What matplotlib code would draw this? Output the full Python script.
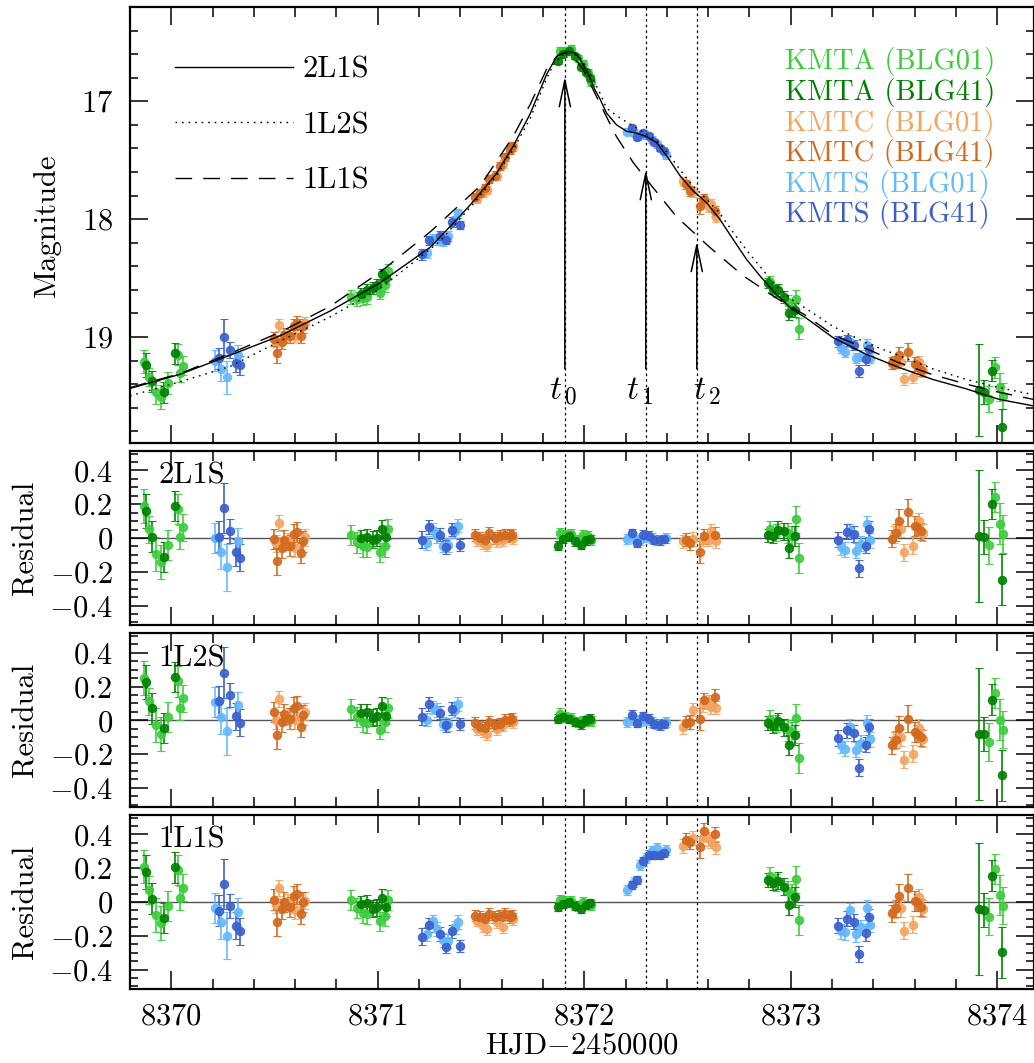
import numpy as np
import matplotlib.pyplot as plt
from matplotlib.ticker import MultipleLocator

plt.rcParams['font.family'] = ['cmr10', 'DejaVu Serif']
plt.rcParams['mathtext.fontset'] = 'cm'
plt.rcParams['axes.formatter.use_mathtext'] = True
plt.rcParams['font.size'] = 22

# ---- data: KMTA (BLG01) ----
kmta01_t = [8369.869, 8369.892, 8369.927, 8369.950, 8369.982, 8370.032, 8370.044, 8370.056,
            8370.872, 8370.901, 8370.930, 8370.947, 8371.011, 8371.035, 8371.048,
            8371.882, 8371.906, 8371.938, 8371.970, 8371.995, 8372.019, 8372.035,
            8372.901, 8372.930, 8372.987, 8373.008, 8373.024, 8373.040,
            8373.959, 8373.991, 8374.011, 8374.030]
kmta01_mag = [19.21, 19.34, 19.47, 19.51, 19.39, 19.15, 19.31, 19.245,
              18.66, 18.675, 18.67, 18.66, 18.625, 18.56, 18.44,
              16.57, 16.57, 16.554, 16.635, 16.68, 16.76, 16.84,
              18.53, 18.61, 18.705, 18.76, 18.68, 18.93,
              19.526, 19.257, 19.425, 19.50]
kmta01_err = [0.10, 0.08, 0.10, 0.10, 0.09, 0.09, 0.07, 0.08,
              0.06, 0.06, 0.06, 0.06, 0.055, 0.06, 0.06,
              0.03, 0.03, 0.03, 0.03, 0.03, 0.03, 0.03,
              0.05, 0.05, 0.06, 0.06, 0.08, 0.09,
              0.11, 0.09, 0.12, 0.11]
kmta01_r2l1s = [0.19, 0.053, -0.093, -0.144, -0.041, 0.17, 0.006, 0.065,
                0.016, -0.026, -0.05, -0.053, -0.085, -0.05, 0.053,
                0.03, 0.02, 0.026, -0.01, 0.02, 0.01, -0.01,
                0.053, 0.03, 0.03, 0.01, 0.112, -0.118,
                -0.043, 0.243, 0.085, 0.024]
kmta01_r1l2s = [0.25, 0.114, -0.03, -0.08, 0.02, 0.23, 0.07, 0.13,
                0.065, 0.02, -0.01, -0.016, -0.055, -0.01, 0.073,
                0.04, 0.02, 0.014, -0.01, -0.004, 0.0, -0.006,
                0.01, -0.02, -0.06, -0.07, 0.016, -0.223,
                -0.128, 0.162, 0.004, -0.055]
kmta01_r1l1s = [0.21, 0.071, -0.075, -0.126, -0.024, 0.19, 0.024, 0.083,
                0.012, -0.037, -0.065, -0.07, -0.114, -0.08, 0.012,
                0.012, 0.008, 0.004, -0.022, -0.002, -0.012, -0.016,
                0.156, 0.116, 0.067, 0.047, 0.136, -0.105,
                -0.087, 0.195, 0.041, -0.022]

# ---- data: KMTA (BLG41) ----
kmta41_t = [8369.879, 8369.908, 8369.965, 8370.018,
            8370.918, 8370.947, 8370.976, 8370.995, 8371.022, 8371.040,
            8371.874, 8371.898, 8371.927, 8371.955, 8371.984, 8372.008, 8372.027,
            8372.890, 8372.914, 8372.938, 8372.966, 8372.992, 8373.019,
            8373.914, 8373.938, 8373.974, 8374.022]
kmta41_mag = [19.24, 19.375, 19.47, 19.14,
              18.634, 18.60, 18.585, 18.556, 18.47, 18.50,
              16.655, 16.60, 16.57, 16.62, 16.705, 16.75, 16.806,
              18.544, 18.595, 18.60, 18.66, 18.80, 18.77,
              19.448, 19.465, 19.287, 19.765]
kmta41_err = [0.10, 0.09, 0.09, 0.09,
              0.05, 0.05, 0.05, 0.05, 0.05, 0.05,
              0.025, 0.025, 0.025, 0.025, 0.025, 0.025, 0.025,
              0.04, 0.04, 0.05, 0.05, 0.06, 0.06,
              0.39, 0.10, 0.09, 0.15]
kmta41_r2l1s = [0.16, 0.008, -0.112, 0.19,
                -0.002, 0.004, -0.01, 0.0, 0.055, 0.004,
                -0.045, -0.006, 0.01, -0.02, -0.04, -0.014, -0.006,
                0.016, 0.01, 0.05, 0.04, -0.06, 0.01,
                0.01, 0.006, 0.203, -0.247]
kmta41_r1l2s = [0.225, 0.07, -0.047, 0.256,
                0.045, 0.047, 0.014, 0.024, 0.087, 0.026,
                0.01, 0.02, 0.008, -0.01, -0.024, 0.0, 0.01,
                -0.016, -0.035, -0.006, -0.04, -0.148, -0.085,
                -0.079, -0.083, 0.122, -0.325]
kmta41_r1l1s = [0.178, 0.02, -0.095, 0.205,
                -0.012, -0.008, -0.04, -0.03, 0.024, -0.03,
                -0.03, -0.012, -0.002, -0.022, -0.04, -0.016, -0.008,
                0.13, 0.11, 0.126, 0.09, -0.018, 0.03,
                -0.041, -0.047, 0.156, -0.298]

# ---- data: KMTC (BLG01) ----
kmtc01_t = [8370.505, 8370.524, 8370.563, 8370.600, 8370.648,
            8371.479, 8371.511, 8371.530, 8371.576, 8371.608, 8371.656,
            8372.479, 8372.527, 8372.576, 8372.605, 8372.616, 8372.640,
            8373.498, 8373.535, 8373.548, 8373.592, 8373.621, 8373.640]
kmtc01_mag = [19.035, 18.90, 18.98, 18.99, 18.88,
              17.83, 17.78, 17.75, 17.63, 17.53, 17.38,
              17.68, 17.77, 17.845, 17.90, 17.87, 17.985,
              19.21, 19.21, 19.355, 19.34, 19.21, 19.29]
kmtc01_err = [0.05, 0.05, 0.05, 0.05, 0.05,
              0.035, 0.035, 0.035, 0.035, 0.035, 0.035,
              0.04, 0.04, 0.04, 0.04, 0.04, 0.04,
              0.05, 0.05, 0.05, 0.05, 0.05, 0.05]
kmtc01_r2l1s = [-0.03, 0.089, -0.02, -0.06, 0.004,
                -0.01, -0.03, -0.04, -0.02, -0.01, 0.0,
                -0.02, -0.006, -0.01, -0.01, 0.04, -0.02,
                0.02, 0.053, -0.085, -0.045, 0.1, 0.03]
kmtc01_r1l2s = [0.0, 0.126, 0.02, 0.0, 0.05,
                -0.05, -0.065, -0.079, -0.05, -0.03, -0.01,
                -0.04, 0.063, 0.09, 0.108, 0.08, 0.075,
                -0.118, -0.1, -0.233, -0.197, -0.045, -0.108]
kmtc01_r1l1s = [-0.016, 0.083, -0.002, -0.05, 0.008,
                -0.11, -0.14, -0.16, -0.12, -0.15, -0.10,
                0.333, 0.38, 0.38, 0.373, 0.36, 0.323,
                -0.047, -0.036, -0.17, -0.134, 0.028, -0.04]

# ---- data: KMTC (BLG41) ----
kmtc41_t = [8370.495, 8370.514, 8370.536, 8370.548, 8370.576, 8370.592, 8370.611, 8370.629, 8370.640,
            8371.471, 8371.495, 8371.519, 8371.540, 8371.567, 8371.592, 8371.616, 8371.640, 8371.648,
            8372.495, 8372.511, 8372.559, 8372.579, 8372.632,
            8373.491, 8373.508, 8373.524, 8373.567, 8373.600, 8373.611, 8373.632]
kmtc41_mag = [19.02, 19.14, 19.04, 18.98, 18.99, 18.91, 18.88, 18.99, 18.91,
              17.81, 17.78, 17.74, 17.66, 17.63, 17.55, 17.475, 17.416, 17.383,
              17.705, 17.76, 17.89, 17.83, 17.93,
              19.224, 19.21, 19.155, 19.128, 19.23, 19.24, 19.28]
kmtc41_err = [0.06, 0.08, 0.06, 0.06, 0.06, 0.06, 0.06, 0.06, 0.06,
              0.035, 0.035, 0.035, 0.035, 0.035, 0.035, 0.035, 0.035, 0.035,
              0.04, 0.04, 0.065, 0.045, 0.045,
              0.05, 0.05, 0.07, 0.08, 0.06, 0.05, 0.05]
kmtc41_r2l1s = [-0.004, -0.138, -0.06, -0.01, -0.045, 0.024, 0.035, -0.089, -0.02,
                0.02, 0.0, -0.01, 0.03, 0.0, 0.01, 0.02, 0.01, 0.02,
                -0.01, -0.03, -0.083, 0.01, 0.02,
                -0.004, 0.03, 0.103, 0.152, 0.07, 0.065, 0.04]
kmtc41_r1l2s = [0.049, -0.089, -0.01, 0.036, 0.01, 0.075, 0.083, -0.04, 0.03,
                -0.016, -0.04, -0.045, -0.01, -0.03, -0.02, 0.0, 0.004, 0.01,
                -0.014, -0.01, 0.01, 0.118, 0.138,
                -0.148, -0.114, -0.043, 0.01, -0.07, -0.079, -0.1]
kmtc41_r1l1s = [0.014, -0.12, -0.04, 0.002, -0.028, 0.037, 0.047, -0.071, -0.002,
                -0.08, -0.09, -0.1, -0.07, -0.09, -0.08, -0.07, -0.09, -0.08,
                0.367, 0.353, 0.323, 0.42, 0.40,
                -0.067, -0.036, 0.037, 0.083, 0.004, -0.002, -0.032]

# ---- data: KMTS (BLG01) ----
kmts01_t = [8370.213, 8370.243, 8370.269, 8370.323,
            8371.237, 8371.269, 8371.285, 8371.317, 8371.341, 8371.374, 8371.390,
            8372.205, 8372.240, 8372.269, 8372.298, 8372.326, 8372.353, 8372.398,
            8373.244, 8373.265, 8373.288, 8373.317, 8373.341, 8373.369, 8373.385]
kmts01_mag = [19.20, 19.27, 19.34, 19.15,
              18.29, 18.165, 18.18, 18.185, 18.142, 18.01, 17.95,
              17.26, 17.266, 17.29, 17.29, 17.325, 17.365, 17.46,
              19.093, 19.128, 19.04, 19.18, 19.16, 19.065, 19.18]
kmts01_err = [0.09, 0.10, 0.14, 0.08,
              0.04, 0.04, 0.04, 0.04, 0.04, 0.04, 0.04,
              0.03, 0.03, 0.03, 0.03, 0.03, 0.03, 0.03,
              0.045, 0.045, 0.045, 0.045, 0.045, 0.045, 0.045]
kmts01_r2l1s = [0.0, -0.085, -0.174, -0.02,
                -0.03, 0.05, 0.01, -0.045, -0.04, 0.04, 0.073,
                -0.006, 0.0, -0.01, 0.006, 0.0, -0.01, 0.0,
                -0.053, -0.069, 0.04, -0.075, -0.034, 0.085, -0.014]
kmts01_r1l2s = [0.108, 0.02, -0.065, 0.089,
                0.004, 0.075, 0.06, -0.02, -0.024, 0.06, 0.095,
                -0.01, 0.0, -0.006, 0.0, -0.01, -0.024, -0.01,
                -0.148, -0.168, -0.04, -0.174, -0.134, -0.016, -0.112]
kmts01_r1l1s = [-0.037, -0.12, -0.2, -0.057,
                -0.19, -0.114, -0.16, -0.225, -0.23, -0.15, -0.118,
                0.07, 0.12, 0.22, 0.26, 0.30, 0.32, 0.31,
                -0.174, -0.18, -0.05, -0.19, -0.15, -0.036, -0.134]

# ---- data: KMTS (BLG41) ----
kmts41_t = [8370.232, 8370.256, 8370.285, 8370.311, 8370.334,
            8371.216, 8371.248, 8371.301, 8371.329, 8371.358, 8371.398,
            8372.229, 8372.256, 8372.282, 8372.314, 8372.338, 8372.366, 8372.385,
            8373.229, 8373.274, 8373.304, 8373.330, 8373.366, 8373.378]
kmts41_mag = [19.18, 19.00, 19.11, 19.22, 19.24,
              18.30, 18.18, 18.145, 18.174, 18.025, 18.053,
              17.23, 17.30, 17.267, 17.296, 17.347, 17.394, 17.426,
              19.037, 19.03, 19.07, 19.29, 19.19, 19.105]
kmts41_err = [0.09, 0.15, 0.07, 0.08, 0.08,
              0.05, 0.04, 0.04, 0.04, 0.04, 0.035,
              0.025, 0.025, 0.025, 0.025, 0.025, 0.025, 0.025,
              0.045, 0.045, 0.045, 0.05, 0.045, 0.045]
kmts41_r2l1s = [0.008, 0.178, 0.043, -0.083, -0.118,
                -0.01, 0.065, 0.02, -0.053, 0.05, -0.04,
                0.03, -0.03, 0.02, 0.014, -0.01, -0.014, -0.006,
                -0.01, 0.037, 0.024, -0.178, -0.045, 0.053]
kmts41_r1l2s = [0.112, 0.282, 0.148, 0.024, -0.014,
                0.02, 0.095, 0.045, -0.03, 0.069, -0.02,
                0.034, -0.014, 0.024, 0.01, -0.02, -0.03, -0.02,
                -0.105, -0.06, -0.075, -0.28, -0.144, -0.04]
kmts41_r1l1s = [-0.051, 0.107, -0.022, -0.14, -0.174,
                -0.205, -0.136, -0.19, -0.264, -0.174, -0.26,
                0.10, 0.13, 0.24, 0.28, 0.28, 0.28, 0.29,
                -0.14, -0.10, -0.116, -0.308, -0.185, -0.087]

# ---- model curves ----
m2l1s_t = [8369.80, 8370.044, 8370.285, 8370.527, 8370.769, 8371.011, 8371.253, 8371.330,
           8371.395, 8371.463, 8371.576, 8371.656, 8371.737, 8371.817, 8371.866, 8371.882,
           8371.905, 8371.925, 8371.955, 8371.979, 8372.003, 8372.027, 8372.051, 8372.076,
           8372.108, 8372.156, 8372.205, 8372.253, 8372.302, 8372.350, 8372.398, 8372.463,
           8372.527, 8372.592, 8372.656, 8372.720, 8372.785, 8372.850, 8372.930, 8373.010,
           8373.075, 8373.204, 8373.365, 8373.526, 8373.687, 8373.849, 8374.010, 8374.175]
m2l1s_mag = [19.437, 19.316, 19.155, 18.99, 18.78, 18.54, 18.24, 18.10,
             17.98, 17.85, 17.61, 17.38, 17.11, 16.774, 16.62, 16.60,
             16.585, 16.575, 16.59, 16.64, 16.72, 16.80, 16.90, 16.98,
             17.10, 17.20, 17.255, 17.27, 17.30, 17.35, 17.46, 17.63,
             17.76, 17.86, 18.00, 18.17, 18.34, 18.48, 18.64, 18.77,
             18.84, 19.005, 19.147, 19.26, 19.36, 19.44, 19.53, 19.585]

m1l2s_t = [8369.80, 8370.044, 8370.285, 8370.527, 8370.769, 8371.011, 8371.300, 8371.463,
           8371.576, 8371.656, 8371.737, 8371.817, 8371.850, 8371.900, 8371.940, 8371.980,
           8372.030, 8372.076, 8372.108, 8372.172, 8372.237, 8372.300, 8372.350, 8372.410,
           8372.463, 8372.527, 8372.592, 8372.656, 8372.720, 8372.785, 8372.850, 8372.930,
           8373.010, 8373.075, 8373.204, 8373.365, 8373.526, 8373.687, 8373.849, 8374.010,
           8374.175]
m1l2s_mag = [19.50, 19.38, 19.25, 19.035, 18.83, 18.59, 18.19, 17.87,
             17.63, 17.41, 17.15, 16.81, 16.69, 16.60, 16.59, 16.63,
             16.77, 16.93, 17.06, 17.14, 17.21, 17.28, 17.33, 17.45,
             17.58, 17.72, 17.83, 17.95, 18.11, 18.26, 18.40, 18.57,
             18.69, 18.76, 18.91, 19.05, 19.16, 19.27, 19.36, 19.43,
             19.49]

m1l1s_t = [8369.80, 8370.044, 8370.285, 8370.527, 8370.769, 8371.011, 8371.253, 8371.495,
           8371.655, 8371.737, 8371.817, 8371.866, 8371.906, 8371.946, 8371.995, 8372.076,
           8372.156, 8372.237, 8372.318, 8372.447, 8372.608, 8372.769, 8372.930, 8373.075,
           8373.204, 8373.365, 8373.526, 8373.687, 8373.849, 8374.010, 8374.175]
m1l1s_mag = [19.43, 19.31, 19.14, 18.96, 18.74, 18.45, 18.11, 17.72,
             17.30, 17.03, 16.73, 16.62, 16.59, 16.62, 16.73, 17.02,
             17.30, 17.52, 17.70, 17.98, 18.24, 18.48, 18.67, 18.82,
             18.98, 19.10, 19.22, 19.32, 19.40, 19.47, 19.53]

t_marks = [8371.906, 8372.298, 8372.545]
t_names = [r'$t_{\,0}$', r'$t_{\,1}$', r'$t_{\,2}$']
t_tips = [16.79, 17.58, 18.19]

res_ticks = [-0.4, -0.2, 0, 0.2, 0.4]
res_ticklabels = ['$-$0.4', '$-$0.2', '0', '0.2', '0.4']

datasets = [
    ('KMTA (BLG01)', '#3ccc3c', kmta01_t, kmta01_mag, kmta01_err, kmta01_r2l1s, kmta01_r1l2s, kmta01_r1l1s),
    ('KMTA (BLG41)', '#008000', kmta41_t, kmta41_mag, kmta41_err, kmta41_r2l1s, kmta41_r1l2s, kmta41_r1l1s),
    ('KMTC (BLG01)', '#f4a460', kmtc01_t, kmtc01_mag, kmtc01_err, kmtc01_r2l1s, kmtc01_r1l2s, kmtc01_r1l1s),
    ('KMTC (BLG41)', '#d2691e', kmtc41_t, kmtc41_mag, kmtc41_err, kmtc41_r2l1s, kmtc41_r1l2s, kmtc41_r1l1s),
    ('KMTS (BLG01)', '#63b8ff', kmts01_t, kmts01_mag, kmts01_err, kmts01_r2l1s, kmts01_r1l2s, kmts01_r1l1s),
    ('KMTS (BLG41)', '#3a5fcd', kmts41_t, kmts41_mag, kmts41_err, kmts41_r2l1s, kmts41_r1l2s, kmts41_r1l1s),
]

fig = plt.figure(figsize=(10.34, 10.63), dpi=100)
L, W = 130 / 1034, 904 / 1034
ax = fig.add_axes([L, 1 - 443 / 1063, W, 436 / 1063])
res_axes = [fig.add_axes([L, 1 - b / 1063, W, 174 / 1063]) for b in (625, 807.3, 989)]
res_names = ['2L1S', '1L2S', '1L1S']


def style_axis(a, ymajor, yminor):
    a.set_xlim(8369.80, 8374.178)
    a.xaxis.set_major_locator(MultipleLocator(1))
    a.xaxis.set_minor_locator(MultipleLocator(0.2))
    a.yaxis.set_major_locator(MultipleLocator(ymajor))
    a.yaxis.set_minor_locator(MultipleLocator(yminor))
    a.tick_params(which='both', direction='in', top=True, right=True, width=1.1, labelsize=22)
    a.tick_params(axis='x', which='major', length=13, pad=10)
    a.tick_params(axis='x', which='minor', length=7.2)
    a.tick_params(axis='y', which='major', length=13, pad=12)
    a.tick_params(axis='y', which='minor', length=5.8)
    for s in a.spines.values():
        s.set_linewidth(1.6)


def draw_points(a, t, y, err, c):
    a.errorbar(t, y, yerr=err, fmt='o', ms=6, color=c, mec=c, mew=0.8, ecolor=c,
               elinewidth=1.3, capsize=3.2, capthick=1.3, alpha=0.9, zorder=2)


# main light curve
for name, c, t, mag, err, r1, r2, r3 in datasets:
    draw_points(ax, t, mag, err, c)

ax.plot(m2l1s_t, m2l1s_mag, color='k', lw=1.0, label='2L1S', zorder=3)
ax.plot(m1l2s_t, m1l2s_mag, color='k', lw=1.0, dashes=(1.2, 3.5), label='1L2S', zorder=3)
ax.plot(m1l1s_t, m1l1s_mag, color='k', lw=1.0, dashes=(12, 8), label='1L1S', zorder=3)

style_axis(ax, 1, 0.2)
ax.set_ylim(19.9, 16.2)
ax.set_yticks([17, 18, 19])
ax.tick_params(axis='x', labelbottom=False)
ax.set_ylabel('Magnitude')
ax.yaxis.set_label_coords(-0.077, 0.5)

for tm, nm, tip in zip(t_marks, t_names, t_tips):
    ax.axvline(tm, color='k', lw=0.9, dashes=(2, 2.5), zorder=1)
    ax.annotate('', xy=(tm, tip), xytext=(tm, 19.27),
                arrowprops=dict(arrowstyle='->,head_length=1.9,head_width=0.4', lw=1.1,
                                color='k', shrinkA=0, shrinkB=0, mutation_scale=10))
ax.text(t_marks[0] - 0.01, 19.46, t_names[0], ha='center', va='center', fontsize=24)
ax.text(t_marks[1] - 0.03, 19.46, t_names[1], ha='center', va='center', fontsize=24)
ax.text(t_marks[2] + 0.05, 19.46, t_names[2], ha='center', va='center', fontsize=24)

ax.legend(loc='upper left', bbox_to_anchor=(0.0498, 0.888), frameon=False,
          handlelength=3.85, handletextpad=0.33, labelspacing=0.93,
          borderpad=0, borderaxespad=0, fontsize=22)

for i, (name, c, *_rest) in enumerate(datasets):
    ax.text(0.7246, 0.874 - i * 0.0702, name, transform=ax.transAxes, color=c,
            va='center', ha='left', fontsize=20.5)

# residual panels
for k, (rax, rname) in enumerate(zip(res_axes, res_names)):
    for name, c, t, mag, err, r1, r2, r3 in datasets:
        draw_points(rax, t, (r1, r2, r3)[k], err, c)
    rax.axhline(0, color='#555555', lw=1.0, zorder=1)
    for tm in t_marks:
        rax.axvline(tm, color='k', lw=0.9, dashes=(2, 2.5), zorder=1)
    style_axis(rax, 0.2, 0.05)
    rax.set_ylim(-0.515, 0.515)
    rax.set_yticks(res_ticks, res_ticklabels)
    rax.set_ylabel('Residual')
    rax.yaxis.set_label_coords(-0.10, 0.5)
    rax.text(0.031, 0.855, rname, transform=rax.transAxes, ha='left', va='center', fontsize=22)
    if k < 2:
        rax.tick_params(axis='x', labelbottom=False)

res_axes[2].set_xlabel('HJD$-$2450000', labelpad=1)

fig.savefig('out.png', dpi=100)
